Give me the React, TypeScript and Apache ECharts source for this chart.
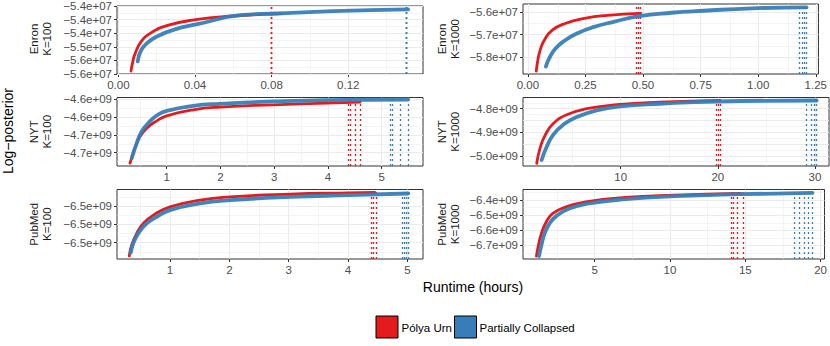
import React, { useEffect, useRef } from "react";
import * as echarts from "echarts";

const RED = "#E41A1C";
const BLUE = "#377EB8";
const FONT = "'Liberation Sans', Arial, Helvetica, sans-serif";

// ---------- Enron, K=100 ----------
const enron100Red = [[0.0066, -5.5893e7], [0.0075, -5.5561e7], [0.0087, -5.5261e7], [0.0118, -5.4821e7], [0.017, -5.4489e7], [0.0257, -5.4214e7], [0.0395, -5.4011e7], [0.0603, -5.3868e7], [0.0845, -5.3780e7]];
const enron100Blue = [[0.0101, -5.5536e7], [0.0118, -5.5143e7], [0.0153, -5.4846e7], [0.0205, -5.4607e7], [0.0291, -5.4368e7], [0.0412, -5.4170e7], [0.0637, -5.3839e7], [0.0828, -5.3775e7], [0.1122, -5.3689e7], [0.1512, -5.3625e7]];
const enron100RedEnds = [0.0821, 0.0833, 0.0845];
const enron100BlueEnds = [0.1461, 0.1484, 0.1502, 0.1515];
const enron100XTicks = [0, 0.04, 0.08, 0.12];
const enron100XLabels = ["0.00", "0.04", "0.08", "0.12"];
const enron100XRange = [-0.0007, 0.159];
const enron100YTicks = [-5.6e7, -5.55e7, -5.5e7, -5.45e7, -5.4e7, -5.35e7];
const enron100YLabels = ["\u22125.6e+07", "\u22125.6e+07", "\u22125.5e+07", "\u22125.4e+07", "\u22125.4e+07", "\u22125.4e+07"];
const enron100YRange = [-5.6e7, -5.35e7];

// ---------- Enron, K=1000 ----------
const enron1000Red = [[0.0365, -5.8626e7], [0.0432, -5.8148e7], [0.0532, -5.77e7], [0.0712, -5.7253e7], [0.106, -5.6805e7], [0.162, -5.6506e7], [0.246, -5.6282e7], [0.344, -5.6148e7], [0.49, -5.6055e7]];
const enron1000Blue = [[0.0784, -5.8416e7], [0.0922, -5.8072e7], [0.12, -5.7624e7], [0.162, -5.7253e7], [0.218, -5.6926e7], [0.288, -5.6658e7], [0.372, -5.6434e7], [0.483, -5.6179e7], [0.623, -5.6031e7], [0.763, -5.5942e7], [0.972, -5.5834e7], [1.21, -5.579e7]];
const enron1000RedEnds = [0.467, 0.476, 0.484, 0.492];
const enron1000BlueEnds = [1.176, 1.188, 1.199, 1.209];
const enron1000XTicks = [0, 0.25, 0.5, 0.75, 1.0, 1.25];
const enron1000XLabels = ["0.00", "0.25", "0.50", "0.75", "1.00", "1.25"];
const enron1000XRange = [-0.021, 1.2615];
const enron1000YTicks = [-5.8e7, -5.7e7, -5.6e7];
const enron1000YLabels = ["\u22125.8e+07", "\u22125.7e+07", "\u22125.6e+07"];
const enron1000YRange = [-5.8752e7, -5.5642e7];

// ---------- NYT, K=100 ----------
const nyt100Red = [[0.318, -4.6898e9], [0.411, -4.6686e9], [0.504, -4.6523e9], [0.629, -4.6404e9], [0.815, -4.6301e9], [1.001, -4.623e9], [1.496, -4.6145e9], [1.994, -4.6107e9], [2.984, -4.6075e9], [3.978, -4.6051e9], [4.598, -4.6037e9]];
const nyt100Blue = [[0.35, -4.6828e9], [0.443, -4.6616e9], [0.536, -4.6452e9], [0.659, -4.6333e9], [0.815, -4.6226e9], [1.001, -4.616e9], [1.496, -4.6089e9], [1.994, -4.6061e9], [2.984, -4.6028e9], [3.978, -4.6008e9], [5.49, -4.6e9]];
const nyt100RedEnds = [4.379, 4.424, 4.504, 4.598];
const nyt100BlueEnds = [5.156, 5.204, 5.353, 5.495];
const nyt100XTicks = [1, 2, 3, 4, 5];
const nyt100XLabels = ["1", "2", "3", "4", "5"];
const nyt100XRange = [0.076, 5.769];
const nyt100YTicks = [-4.675e9, -4.65e9, -4.625e9, -4.6e9];
const nyt100YLabels = ["\u22124.7e+09", "\u22124.7e+09", "\u22124.6e+09", "\u22124.6e+09"];
const nyt100YRange = [-4.6938e9, -4.5972e9];

// ---------- NYT, K=1000 ----------
const nyt1000Red = [[1.35, -5.032e9], [1.69, -4.9688e9], [2.22, -4.9126e9], [3.06, -4.8633e9], [4.44, -4.8253e9], [6.5, -4.8e9], [9.92, -4.7819e9], [14.04, -4.7722e9], [20.2, -4.7645e9]];
const nyt1000Blue = [[1.86, -5.0181e9], [2.38, -4.962e9], [3.06, -4.9097e9], [4.09, -4.8675e9], [5.47, -4.8354e9], [7.52, -4.8072e9], [9.92, -4.7903e9], [14.04, -4.7789e9], [19.88, -4.7692e9], [30.17, -4.765e9]];
const nyt1000RedEnds = [19.88, 20.08, 20.29];
const nyt1000BlueEnds = [29.14, 29.58, 29.89, 30.17];
const nyt1000XTicks = [10, 20, 30];
const nyt1000XLabels = ["10", "20", "30"];
const nyt1000XRange = [-0.06, 31.44];
const nyt1000YTicks = [-5.0e9, -4.95e9, -4.9e9, -4.85e9, -4.8e9];
const nyt1000YLabels = ["\u22125.0e+09", "\u22125.0e+09", "\u22124.9e+09", "\u22124.8e+09", "\u22124.8e+09"];
const nyt1000YRange = [-5.0435e9, -4.7523e9];

// ---------- PubMed, K=100 ----------
const pubmed100Red = [[0.313, -6.5145e9], [0.354, -6.5025e9], [0.438, -6.4898e9], [0.549, -6.4789e9], [0.718, -6.4698e9], [0.999, -6.4608e9], [1.505, -6.4535e9], [2.011, -6.4499e9], [3.022, -6.4469e9], [4.005, -6.4455e9], [4.45, -6.4451e9]];
const pubmed100Blue = [[0.337, -6.5109e9], [0.381, -6.5007e9], [0.465, -6.4898e9], [0.607, -6.4789e9], [0.775, -6.4717e9], [0.999, -6.4644e9], [1.505, -6.4571e9], [2.011, -6.4535e9], [3.022, -6.4499e9], [4.005, -6.448e9], [5.016, -6.4462e9]];
const pubmed100RedEnds = [4.387, 4.43, 4.472];
const pubmed100BlueEnds = [4.905, 4.944, 4.977, 5.016];
const pubmed100XTicks = [1, 2, 3, 4, 5];
const pubmed100XLabels = ["1", "2", "3", "4", "5"];
const pubmed100XRange = [0.106, 5.264];
const pubmed100YTicks = [-6.5e9, -6.48e9, -6.46e9];
const pubmed100YLabels = ["\u22126.5e+09", "\u22126.5e+09", "\u22126.5e+09"];
const pubmed100YRange = [-6.5178e9, -6.4418e9];

// ---------- PubMed, K=1000 ----------
const pubmed1000Red = [[1.14, -6.7709e9], [1.245, -6.7093e9], [1.467, -6.6205e9], [1.794, -6.5437e9], [2.226, -6.4881e9], [3.103, -6.4444e9], [4.411, -6.4113e9], [7.028, -6.3821e9], [10.298, -6.3669e9], [14.7, -6.3556e9]];
const pubmed1000Blue = [[1.31, -6.7709e9], [1.467, -6.698e9], [1.683, -6.6205e9], [2.01, -6.5543e9], [2.448, -6.506e9], [3.32, -6.455e9], [4.629, -6.4219e9], [7.028, -6.3934e9], [10.298, -6.3735e9], [14.655, -6.3603e9], [19.456, -6.3517e9]];
const pubmed1000RedEnds = [14.05, 14.22, 14.44, 14.88];
const pubmed1000BlueEnds = [18.25, 18.58, 18.91, 19.19, 19.46];
const pubmed1000XTicks = [5, 10, 15, 20];
const pubmed1000XLabels = ["5", "10", "15", "20"];
const pubmed1000XRange = [0.244, 20.26];
const pubmed1000YTicks = [-6.7e9, -6.6e9, -6.5e9, -6.4e9];
const pubmed1000YLabels = ["\u22126.7e+09", "\u22126.6e+09", "\u22126.5e+09", "\u22126.4e+09"];
const pubmed1000YRange = [-6.7907e9, -6.3291e9];

const legendNames = ["P\u00f3lya Urn", "Partially Collapsed"];

const panels = [
  { label: "Enron\nK=100", red: enron100Red, blue: enron100Blue, redEnds: enron100RedEnds, blueEnds: enron100BlueEnds, xTicks: enron100XTicks, xLabels: enron100XLabels, xRange: enron100XRange, yTicks: enron100YTicks, yLabels: enron100YLabels, yRange: enron100YRange },
  { label: "Enron\nK=1000", red: enron1000Red, blue: enron1000Blue, redEnds: enron1000RedEnds, blueEnds: enron1000BlueEnds, xTicks: enron1000XTicks, xLabels: enron1000XLabels, xRange: enron1000XRange, yTicks: enron1000YTicks, yLabels: enron1000YLabels, yRange: enron1000YRange },
  { label: "NYT\nK=100", red: nyt100Red, blue: nyt100Blue, redEnds: nyt100RedEnds, blueEnds: nyt100BlueEnds, xTicks: nyt100XTicks, xLabels: nyt100XLabels, xRange: nyt100XRange, yTicks: nyt100YTicks, yLabels: nyt100YLabels, yRange: nyt100YRange },
  { label: "NYT\nK=1000", red: nyt1000Red, blue: nyt1000Blue, redEnds: nyt1000RedEnds, blueEnds: nyt1000BlueEnds, xTicks: nyt1000XTicks, xLabels: nyt1000XLabels, xRange: nyt1000XRange, yTicks: nyt1000YTicks, yLabels: nyt1000YLabels, yRange: nyt1000YRange },
  { label: "PubMed\nK=100", red: pubmed100Red, blue: pubmed100Blue, redEnds: pubmed100RedEnds, blueEnds: pubmed100BlueEnds, xTicks: pubmed100XTicks, xLabels: pubmed100XLabels, xRange: pubmed100XRange, yTicks: pubmed100YTicks, yLabels: pubmed100YLabels, yRange: pubmed100YRange },
  { label: "PubMed\nK=1000", red: pubmed1000Red, blue: pubmed1000Blue, redEnds: pubmed1000RedEnds, blueEnds: pubmed1000BlueEnds, xTicks: pubmed1000XTicks, xLabels: pubmed1000XLabels, xRange: pubmed1000XRange, yTicks: pubmed1000YTicks, yLabels: pubmed1000YLabels, yRange: pubmed1000YRange },
];

// layout (pixels)
const PANEL_W = 306;
const layout = [
  { left: 117, top: 4, height: 70, stripX: 40 },
  { left: 523, top: 4, height: 70, stripX: 448 },
  { left: 117, top: 97.5, height: 68.5, stripX: 40 },
  { left: 523, top: 97.5, height: 68.5, stripX: 448 },
  { left: 117, top: 189.5, height: 69.5, stripX: 40 },
  { left: 523, top: 189.5, height: 69.5, stripX: 448 },
];

const lookup = (ticks: number[], labels: string[]) => (v: number) => {
  const step = Math.abs(ticks[1] - ticks[0]);
  let best = -1;
  let bd = Infinity;
  ticks.forEach((t, i) => {
    const d = Math.abs(t - v);
    if (d < bd) {
      bd = d;
      best = i;
    }
  });
  return best >= 0 && bd <= step * 0.01 ? labels[best] : "";
};

const minors = (ticks: number[], range: number[]) => {
  const step = ticks[1] - ticks[0];
  const c = ticks.map((t) => t - step / 2).concat([ticks[ticks.length - 1] + step / 2]);
  return c.filter((v) => v > range[0] && v < range[1]);
};

function buildOption() {
  const grid: any[] = [];
  const xAxis: any[] = [];
  const yAxis: any[] = [];
  const series: any[] = [];
  const graphic: any[] = [];

  panels.forEach((p, i) => {
    const L = layout[i];
    grid.push({
      left: L.left,
      top: L.top,
      width: PANEL_W,
      height: L.height,
      show: true,
      borderColor: "#333333",
      borderWidth: 1,
      backgroundColor: "transparent",
      containLabel: false,
    });
    const common = {
      type: "value",
      gridIndex: i,
      axisLine: { show: false, onZero: false },
      splitLine: { show: false },
      minorSplitLine: { show: false },
    };
    xAxis.push({
      ...common,
      min: p.xRange[0],
      max: p.xRange[1],
      axisTick: { show: true, length: 3, lineStyle: { color: "#333333", width: 1 }, customValues: p.xTicks },
      axisLabel: {
        customValues: p.xTicks,
        formatter: lookup(p.xTicks, p.xLabels),
        color: "#4D4D4D",
        fontSize: 11.5,
        fontFamily: FONT,
        margin: 5,
        showMinLabel: true,
        showMaxLabel: true,
      },
    });
    yAxis.push({
      ...common,
      min: p.yRange[0],
      max: p.yRange[1],
      axisTick: { show: true, length: 3, lineStyle: { color: "#333333", width: 1 }, customValues: p.yTicks },
      axisLabel: {
        customValues: p.yTicks,
        formatter: lookup(p.yTicks, p.yLabels),
        color: "#4D4D4D",
        fontSize: 11.5,
        fontFamily: FONT,
        margin: 5,
        showMinLabel: true,
        showMaxLabel: true,
      },
    });

    const gridLines = [
      ...p.xTicks.map((v) => ({ xAxis: v, lineStyle: { width: 1.1 } })),
      ...minors(p.xTicks, p.xRange).map((v) => ({ xAxis: v, lineStyle: { width: 0.55 } })),
      ...p.yTicks.map((v) => ({ yAxis: v, lineStyle: { width: 1.1 } })),
      ...minors(p.yTicks, p.yRange).map((v) => ({ yAxis: v, lineStyle: { width: 0.55 } })),
    ];
    const mlBase = {
      silent: true,
      symbol: ["none", "none"],
      label: { show: false },
      emphasis: { disabled: true },
      animation: false,
    };
    series.push({
      type: "line",
      xAxisIndex: i,
      yAxisIndex: i,
      data: [],
      silent: true,
      z: 1,
      markLine: { ...mlBase, z: 1, lineStyle: { color: "#EBEBEB", type: "solid", width: 1 }, data: gridLines },
    });
    series.push({
      type: "line",
      xAxisIndex: i,
      yAxisIndex: i,
      data: [],
      silent: true,
      z: 2,
      markLine: { ...mlBase, z: 2, lineStyle: { color: RED, type: [2, 3], width: 1.3 }, data: p.redEnds.map((v) => ({ xAxis: v })) },
    });
    series.push({
      type: "line",
      xAxisIndex: i,
      yAxisIndex: i,
      data: [],
      silent: true,
      z: 2,
      markLine: { ...mlBase, z: 2, lineStyle: { color: BLUE, type: [2, 3], width: 1.3 }, data: p.blueEnds.map((v) => ({ xAxis: v })) },
    });
    series.push({
      name: legendNames[0],
      type: "line",
      xAxisIndex: i,
      yAxisIndex: i,
      data: p.red,
      showSymbol: false,
      symbol: "none",
      smooth: 0.5,
      silent: true,
      z: 3,
      lineStyle: { color: RED, width: 2.8, cap: "round", join: "round" },
      itemStyle: { color: RED },
    });
    series.push({
      name: legendNames[1],
      type: "line",
      xAxisIndex: i,
      yAxisIndex: i,
      data: p.blue,
      showSymbol: false,
      symbol: "none",
      smooth: 0.5,
      silent: true,
      z: 4,
      lineStyle: { color: BLUE, width: 3.8, opacity: 0.95, cap: "round", join: "round" },
      itemStyle: { color: BLUE },
    });

    graphic.push({
      type: "text",
      x: L.stripX,
      y: L.top + L.height / 2,
      rotation: Math.PI / 2,
      silent: true,
      style: {
        text: p.label,
        fill: "#1A1A1A",
        fontSize: 11.5,
        fontFamily: FONT,
        align: "center",
        verticalAlign: "middle",
        lineHeight: 13,
      },
    });
  });

  graphic.push({
    type: "text",
    x: 8,
    y: 131,
    rotation: Math.PI / 2,
    silent: true,
    style: { text: "Log\u2212posterior", fill: "#000", fontSize: 14, fontFamily: FONT, align: "center", verticalAlign: "middle" },
  });
  graphic.push({
    type: "text",
    x: 473,
    y: 287,
    silent: true,
    style: { text: "Runtime (hours)", fill: "#000", fontSize: 14, fontFamily: FONT, align: "center", verticalAlign: "middle" },
  });
  // legend
  graphic.push({ type: "rect", x: 376, y: 316, shape: { width: 22, height: 22 }, style: { fill: RED, stroke: "#000", lineWidth: 1 }, silent: true });
  graphic.push({ type: "text", x: 401.5, y: 328, silent: true, style: { text: legendNames[0], fill: "#000", fontSize: 11.5, fontFamily: FONT, align: "left", verticalAlign: "middle" } });
  graphic.push({ type: "rect", x: 454.5, y: 316, shape: { width: 22, height: 22 }, style: { fill: BLUE, stroke: "#000", lineWidth: 1 }, silent: true });
  graphic.push({ type: "text", x: 479.5, y: 328, silent: true, style: { text: legendNames[1], fill: "#000", fontSize: 11.5, fontFamily: FONT, align: "left", verticalAlign: "middle" } });

  return {
    animation: false,
    backgroundColor: "#FFFFFF",
    textStyle: { fontFamily: FONT },
    grid,
    xAxis,
    yAxis,
    series,
    graphic,
  };
}

export default function App() {
  const ref = useRef<HTMLDivElement>(null);
  useEffect(() => {
    if (!ref.current) return;
    const chart = echarts.init(ref.current, undefined, { renderer: "svg" });
    chart.setOption(buildOption() as any);
    return () => chart.dispose();
  }, []);
  return <div ref={ref} style={{ position: "absolute", left: 0, top: 0, width: 830, height: 346 }} />;
}
